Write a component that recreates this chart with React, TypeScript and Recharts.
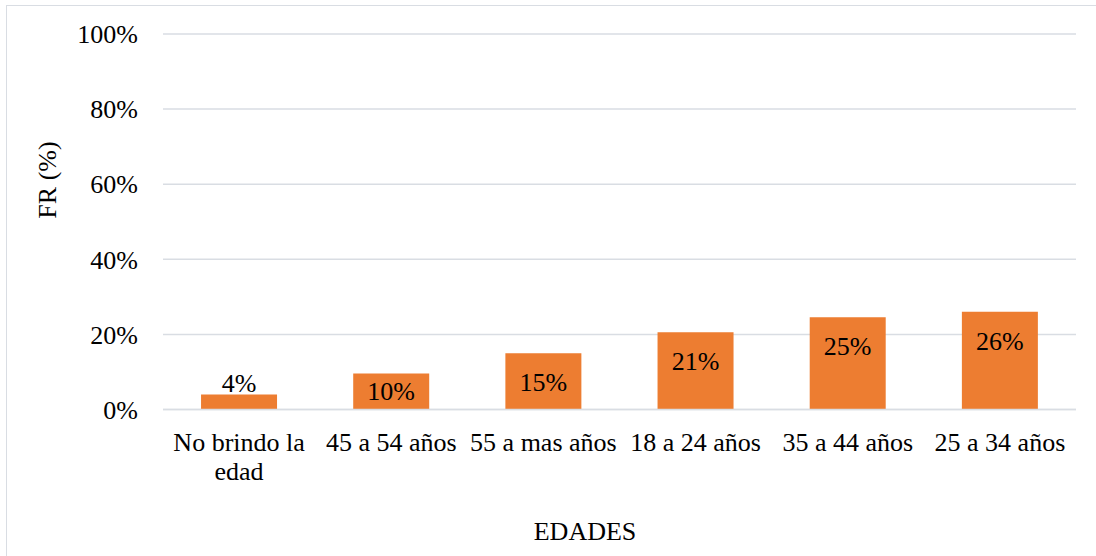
import React from "react"
import { BarChart, Bar, XAxis, YAxis, CartesianGrid, LabelList, Label } from "recharts"

const CATEGORIES = ["No brindo la edad", "45 a 54 años", "55 a mas años", "18 a 24 años", "35 a 44 años", "25 a 34 años"]
const FR_VALUES = [4.0, 9.6, 15.0, 20.6, 24.6, 26.0]
const Y_TICKS = [0, 20, 40, 60, 80, 100]

const FONT = '"Liberation Serif", "Times New Roman", serif'
const GRID = "#d9dde3"
const BAR_COLOR = "#ED7D31"

const data = CATEGORIES.map((name, i) => ({ name, fr: FR_VALUES[i] }))

// split long category names into lines of at most maxChars
function wrap(text: string, maxChars = 13): string[] {
  const lines: string[] = []
  let cur = ""
  text.split(" ").forEach((w) => {
    const next = cur ? cur + " " + w : w
    if (next.length > maxChars && cur) {
      lines.push(cur)
      cur = w
    } else cur = next
  })
  if (cur) lines.push(cur)
  return lines
}

function CategoryTick(props: any) {
  const { x, y, payload } = props
  const lines = wrap(String(payload.value))
  return (
    <text x={x} y={y + 41} textAnchor="middle" fontFamily={FONT} fontSize={26} fill="#000">
      {lines.map((l, i) => (
        <tspan key={i} x={x} dy={i === 0 ? 0 : 29.5}>{l}</tspan>
      ))}
    </text>
  )
}

function ValueLabel(props: any) {
  const { x, y, width, height, value } = props
  const cx = x + width / 2
  let baseline: number
  if (height >= 50) baseline = y + 37.7
  else if (height >= 30) baseline = y + height / 2 + 9
  else baseline = y - 2
  return (
    <text x={cx} y={baseline} textAnchor="middle" fontFamily={FONT} fontSize={26} fill="#000">
      {Math.round(value)}%
    </text>
  )
}

export default function App() {
  return (
    <div style={{ position: "absolute", left: 0, top: 0, width: 1096, height: 556, background: "#fff" }}>
      <div style={{ position: "absolute", left: 6, top: 5, right: 0, bottom: 0, borderTop: `1px solid ${GRID}`, borderLeft: `1px solid ${GRID}` }} />
      <BarChart
        width={1096}
        height={556}
        data={data}
        margin={{ top: 34, right: 20, bottom: 116.5, left: 0 }}
        barCategoryGap="25%"
        style={{ position: "absolute", left: 0, top: 0, fontFamily: FONT }}
      >
        <CartesianGrid vertical={false} stroke={GRID} strokeWidth={1.5} />
        <XAxis
          dataKey="name"
          height={30}
          interval={0}
          tickLine={false}
          tickSize={0}
          tickMargin={0}
          axisLine={{ stroke: GRID, strokeWidth: 1.5 }}
          tick={<CategoryTick />}
        >
          <Label
            content={() => (
              <text x={585} y={540} textAnchor="middle" fontFamily={FONT} fontSize={26} fill="#000">EDADES</text>
            )}
          />
        </XAxis>
        <YAxis
          width={163}
          domain={[0, 100]}
          ticks={Y_TICKS}
          tickFormatter={(v: number) => `${v}%`}
          axisLine={false}
          tickLine={false}
          tickSize={0}
          tickMargin={25}
          tick={{ fontFamily: FONT, fontSize: 26, fill: "#000" }}
        >
          <Label
            content={() => (
              <text
                x={47}
                y={180}
                transform="rotate(-90 47 180)"
                textAnchor="middle"
                dominantBaseline="central"
                fontFamily={FONT}
                fontSize={26}
                fill="#000"
              >
                FR (%)
              </text>
            )}
          />
        </YAxis>
        <Bar dataKey="fr" fill={BAR_COLOR} isAnimationActive={false}>
          <LabelList dataKey="fr" content={<ValueLabel />} />
        </Bar>
      </BarChart>
    </div>
  )
}
